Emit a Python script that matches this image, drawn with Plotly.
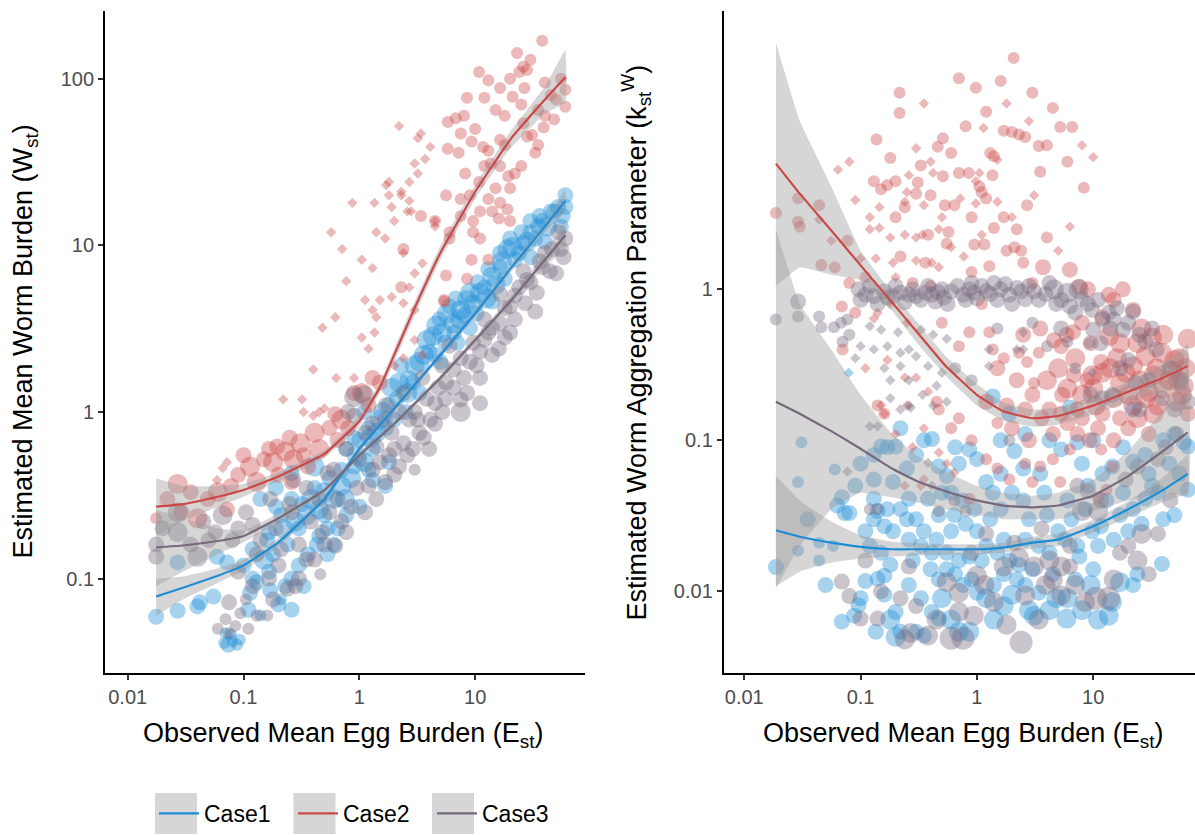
import plotly.graph_objects as go

W, H = 1195, 835

# ------------------------------------------------------------------ data
cases = ["Case1", "Case2", "Case3"]
colors = {"Case1": "#1C8CD6", "Case2": "#CC4848", "Case3": "#76697C"}

# Left panel: observed mean egg burden (x), estimated mean worm burden (y), size class (n)
W1_pts = [
    (0.0176,0.059,3),(0.027,0.064,3),(0.040,0.068,3),(0.042,0.072,3),(0.055,0.078,3),(0.027,0.125,3),(0.059,0.135,3),(0.072,0.125,3),
    (0.068,0.041,2),(0.074,0.040,3),(0.08,0.042,2),(0.088,0.040,2),(0.093,0.043,2),(0.07,0.047,2),(0.078,0.046,2),
    (0.114,0.082,3),(0.13,0.095,3),(0.166,0.11,3),(0.23,0.09,3),(0.26,0.1,3),(0.26,0.065,3),(0.2,0.07,3),(0.21,0.075,2),(0.33,0.09,3),
    (0.1,0.12,3),(0.12,0.15,3),(0.16,0.17,3),(0.166,0.19,3),(0.21,0.24,3),(0.26,0.3,3),(0.45,0.26,4),(0.53,0.2,3),(0.65,0.2,3),
    (0.77,0.24,3),(0.53,0.14,3),(0.6,0.16,3),(0.43,0.16,3),(0.36,0.14,3),(1.0,0.27,3),(1.67,0.36,3),(1.8,0.5,3),(1.3,0.39,3),
    (0.9,0.47,3),(0.77,0.6,3),(1.0,0.68,3),(0.41,0.47,4),(0.26,0.43,3),(0.19,0.35,3),(0.41,0.35,3),(0.14,0.3,3),(0.19,0.27,3),
    (0.3,0.2,3),(0.24,0.16,3),(0.9,0.7,3),(1.2,0.8,3),(1.5,0.9,4),(1.8,1.1,3),(2.1,1.2,3),(1.3,0.6,3),(2.5,1.0,3),(1.1,1.0,3),
    (0.7,0.45,3),(1.9,1.4,4),(2.7,1.55,4),(3.0,1.9,4),(2.3,1.9,3),(4.0,2.3,3),(3.8,2.7,4),(4.3,2.85,4),(5.2,3.0,4),(6.6,3.0,3),
    (4.9,3.6,3),(6.0,4.3,3),(7.4,3.6,4),(7.5,4.1,4),(8.5,4.7,4),(10.3,3.9,3),(11,5.2,4),(12,5.6,3),(14,4.6,3),(14,6.5,4),
    (16.4,7.4,3),(16.4,9,3),(19,9.5,4),(20,11,3),(22,8.2,3),(26,10.3,3),(30,12,3),(30,8.5,3),(30,14,3),(35,13,3),(38,14,3),
    (40,10.5,3),(48,16,3),(55,13,3),(60,20,3),(60,17,3),(3.3,1.3,3),(5.0,2.0,3),(7.0,2.6,3),(9.0,3.2,3),
    (0.12,0.1,3),(0.15,0.13,4),(0.18,0.14,3),(0.22,0.2,4),(0.28,0.22,4),(0.32,0.28,3),(0.35,0.24,4),(0.38,0.3,4),(0.5,0.33,4),
    (0.55,0.4,3),(0.6,0.3,4),(0.7,0.36,4),(0.85,0.4,4),(0.95,0.55,4),(1.1,0.5,4),(1.25,0.7,4),(1.4,0.75,4),(1.6,1.0,4),
    (1.7,0.8,3),(2.0,0.9,3),(2.2,1.5,4),(2.6,1.3,4),(2.9,1.5,3),(3.3,2.0,4),(3.6,2.2,4),(4.5,2.2,3),(4.6,3.3,4),(5.5,2.6,3),
    (5.7,3.9,4),(6.5,3.4,4),(6.8,4.8,3),(8.0,3.8,3),(9,5.2,4),(9.5,4.4,4),(10.5,6,3),(12.5,4.8,4),(13,7.2,3),(15,5.8,4),
    (17,8,4),(18,6.3,3),(21,9.8,4),(24,9,3),(25,12,3),(28,10.5,4),(33,11,3),(36,15,3),(42,13,4),(45,16,3),(52,17,3),(57,15,3),
    (0.45,0.18,3),(0.75,0.3,4),(1.2,0.45,3),(0.3,0.12,3),(0.17,0.085,3),(0.11,0.065,3),(0.14,0.06,2),(0.5,0.24,3),
]
W2_pts = [
    (0.0176,0.23,2),(0.027,0.37,4),(0.029,0.25,3),(0.040,0.23,4),(0.049,0.30,3),(0.059,0.39,1),(0.066,0.46,1),(0.072,0.50,1),
    (0.072,0.26,3),(0.078,0.36,3),(0.114,0.47,4),(0.15,0.52,3),(0.166,0.60,3),(0.195,0.62,3),(0.2,0.42,3),(0.23,0.58,4),
    (0.26,0.38,3),(0.31,0.65,4),(0.36,0.47,3),(0.41,0.75,4),(0.62,0.97,3),(0.65,0.68,3),(0.8,0.8,3),(1.05,1.3,4),(1.2,1.1,3),
    (0.9,1.3,3),(1.5,1.5,3),
    (0.022,0.3,3),(0.035,0.33,3),(0.06,0.33,4),(0.09,0.42,3),(0.13,0.38,4),(0.18,0.5,4),(0.27,0.52,4),(0.33,0.55,3),
    (0.45,0.6,4),(0.55,0.8,3),(0.7,0.9,4),(1.3,1.6,3),(0.1,0.55,3),(0.25,0.7,3),
    (0.22,1.19,1),(0.32,1.19,1),(0.33,1.0,1),(0.40,0.95,1),(0.45,1.0,1),(0.5,1.05,1),(0.40,1.8,1),(0.63,1.6,1),(0.9,1.6,1),
    (2.0,1.9,1),(3.5,2.2,1),(2.4,2.1,1),(1.2,2.4,1),(1.05,2.8,1),(1.35,3.0,1),(3.0,2.7,1),(0.48,3.2,1),(0.62,3.7,1),(1.3,4.1,1),
    (1.4,3.7,1),(3.0,4.1,1),(1.12,4.7,1),(1.5,4.7,1),(1.9,4.9,1),(2.7,5.6,1),(2.4,4.5,1),(5.4,4.6,2),(0.77,6.1,1),(3.0,6.8,1),
    (1.3,7.3,1),(3.5,7.8,1),(1.05,8.2,1),(0.71,9.5,1),(2.4,9.0,1),(1.4,12,1),(1.67,11,1),(0.57,12,1),(2.0,14,1),(2.6,16,1),
    (4.5,14,1),(4.5,13,1),(1.9,17,1),(2.8,16,1),(2.7,18.5,1),(1.8,20,1),(0.87,18,1),(1.35,18,1),(2.3,20,1),(2.3,21,1),(1.7,23,1),
    (1.8,24,1),(2.7,24,1),(3.2,27,1),(3.0,31,1),(3.7,33,1),(4.1,39,1),(3.2,44,1),(3.4,47,1),(2.2,52,1),
    (2.3,5.6,2),(2.4,9.5,2),(5.4,4.7,2),(5.6,6.6,2),(8.5,6.3,2),(9.3,8.2,2),(13,8.2,2),(6,11,2),(11,11,2),(6,12,2),(9.6,12,2),
    (3.4,15,2),(4.5,14,2),(7.5,15,2),(9.6,14,2),(14,16,2),(19,16.5,2),(20,14,2),(16,14.5,2),(11,16,2),(7.5,19,2),(5.6,20,2),
    (13,19,2),(16.4,18,2),(15,22,2),(10.8,24,2),(8.2,27,2),(13.6,31,2),(16.4,30,2),(19.3,26,2),(22,27,2),(5.8,38,2),(7.2,36,2),
    (13,37,2),(16.4,43,2),(11.7,39,2),(9.3,42,2),(7.5,47,2),(5.8,55,2),(6.8,58,2),(8,60,2),(8.5,77,2),(12,77,2),(33,36,2),
    (31,46,2),(39,51,2),(48,57,2),(26,54,2),(35,65,2),(60,68,2),(60,86,2),(21,78,2),(26.6,88,2),(16.4,88,2),(13,98,2),
    (10.8,110,2),(24,110,2),(26,118,2),(28,113,2),(23,143,2),(37.9,169,2),
    (18,60,2),(20,100,2),(30,130,2),(40,95,2),(45,80,2),(55,100,2),(15,65,2),(25,70,2),(10,50,2),(12,30,2),(18,40,2),
    (28,45,2),(35,40,2),(50,75,2),(9,20,2),(20,22,2),(25,30,2),(40,60,2),
]
W3_pts = [
    (0.0176,0.135,3),(0.027,0.19,4),(0.027,0.25,4),(0.04,0.135,4),(0.057,0.19,3),(0.066,0.24,4),(0.075,0.072,3),
    (0.06,0.05,2),(0.07,0.057,2),(0.075,0.047,2),(0.085,0.052,2),(0.094,0.062,2),(0.105,0.075,2),(0.166,0.1,3),(0.24,0.087,3),
    (0.28,0.09,3),(0.3,0.1,3),(0.46,0.106,2),(0.41,0.13,3),(0.62,0.157,3),(0.77,0.19,3),(1.12,0.25,3),(1.4,0.3,3),(1.67,0.38,3),
    (2.2,0.47,3),(2.9,0.6,3),(3.3,0.75,3),(4.1,0.9,3),(5.2,1.0,3),(7.5,1.0,4),(11,1.13,3),
    (0.26,0.25,3),(0.17,0.3,3),(0.105,0.25,3),(0.09,0.2,3),(0.14,0.17,3),(0.21,0.15,3),(0.3,0.16,3),(0.48,0.19,3),(0.65,0.3,3),
    (0.45,0.3,3),(0.27,0.39,3),(0.53,0.43,3),(0.77,0.6,3),(1.0,0.52,3),(1.4,0.62,3),(1.9,0.75,3),(2.7,0.9,3),(1.67,0.9,3),
    (1.12,0.75,3),(0.9,0.95,3),(0.8,1.0,3),(3.0,0.45,2),(4.0,0.6,3),
    (0.9,1.23,4),(1.1,1.26,4),(4.5,1.13,3),(7.5,1.19,3),(5.6,1.5,3),(8,1.6,3),(10.3,1.9,3),(7.5,2.1,3),(6,2.5,3),(9.6,2.6,3),
    (13,3.0,3),(16.4,3.4,3),(20,4.3,3),(33,4.0,3),(24,5.6,3),(16.4,5.1,3),(12,3.6,3),(30,6.0,3),(38,7.4,3),(50,6.8,3),
    (55,9.5,3),(60,11,3),(52,12,3),(40,9,3),(26,7,3),(20,3.0,3),(11,2.3,3),(3.5,1.6,3),(2.4,1.3,3),(1.7,1.1,3),(5.2,1.9,3),
    (16,2.4,3),(2.0,0.6,3),(3.0,1.0,3),
    (0.0176,0.16,3),(0.02,0.2,3),(0.035,0.16,3),(0.045,0.22,3),(0.05,0.17,3),(0.09,0.11,3),(0.12,0.09,3),(0.13,0.14,3),
    (0.2,0.12,3),(0.19,0.2,3),(0.35,0.13,3),(0.38,0.22,3),(0.5,0.16,3),(0.55,0.25,3),(0.7,0.22,3),(0.85,0.27,3),(0.95,0.35,3),
    (1.2,0.36,3),(1.3,0.45,3),(1.5,0.5,3),(1.8,0.55,3),(2.0,0.42,3),(2.4,0.65,3),(2.6,0.55,3),(3.2,0.9,3),(3.6,0.7,3),
    (3.8,1.2,3),(4.5,0.85,3),(4.8,1.4,3),(5.5,1.2,3),(6.5,1.4,3),(6.5,1.8,3),(8.5,1.3,3),(9,2.0,3),(11,1.6,3),(12,2.7,3),
    (14,2.2,3),(14,3.2,3),(18,2.8,3),(18,4.2,3),(22,3.6,3),(22,5,3),(27,4.5,3),(28,6.2,3),(34,5.2,3),(36,8,3),(44,7,3),
    (46,9.5,3),(58,8.5,3),(0.25,0.28,3),(0.12,0.21,3),(0.08,0.17,3),(0.35,0.35,3),(0.6,0.45,3),(1.3,0.85,3),(2.2,1.0,3),
    (0.16,0.06,2),(0.18,0.075,3),(0.13,0.06,2),(0.11,0.05,2),
]

# Right panel: observed mean egg burden (x), estimated aggregation parameter k (y), size class (n)
K1_pts = [
    (0.0187,0.0145,3),(0.029,0.0186,2),(0.029,0.053,2),(0.031,0.097,2),(0.044,0.021,2),(0.044,0.016,2),(0.06,0.064,2),
    (0.058,0.02,2),(0.069,0.042,3),(0.063,0.037,3),(0.08,0.033,3),(0.073,0.033,3),(0.09,0.05,3),
    (0.069,0.0063,3),(0.088,0.0069,3),(0.096,0.0081,3),(0.135,0.0054,3),(0.11,0.0117,3),(0.14,0.0121,3),(0.16,0.0127,3),
    (0.2,0.0073,3),(0.22,0.0054,3),
    (0.13,0.041,3),(0.13,0.03,3),(0.14,0.034,3),(0.16,0.027,3),(0.19,0.025,3),(0.22,0.035,3),(0.26,0.041,3),(0.3,0.03,3),
    (0.19,0.053,3),(0.15,0.091,3),(0.17,0.09,3),(0.2,0.091,3),(0.13,0.08,3),(0.22,0.12,3),(0.41,0.102,3),(0.47,0.067,3),
    (0.55,0.058,3),(0.86,0.087,3),(1.0,0.075,3),(1.2,0.053,3),(1.37,0.045,3),(0.38,0.041,3),(0.47,0.032,3),(0.64,0.032,3),
    (0.8,0.028,3),(1.0,0.025,3),(0.26,0.022,3),(0.33,0.02,3),(0.41,0.018,3),(0.55,0.018,3),(0.7,0.016,3),(0.86,0.017,3),
    (1.2,0.02,3),(1.5,0.018,3),(1.9,0.016,3),(2.6,0.022,3),(3.4,0.02,3),(4.2,0.018,3),(5.7,0.022,3),(7.3,0.02,3),(9.8,0.025,3),
    (11.7,0.027,3),(17,0.032,3),(22,0.035,3),(28,0.041,3),(36,0.045,3),(50,0.032,3),(65,0.047,3),(65,0.091,3),
    (39,0.0152,3),(24,0.013,3),(22,0.011,3),(17,0.0115,4),(13.6,0.0069,4),(14.5,0.0085,4),(5.9,0.0066,4),(4.2,0.0075,4),
    (3.1,0.0069,4),(6,0.009,4),(4.8,0.009,4),(1.7,0.008,4),(1.2,0.009,4),(0.86,0.0054,4),(0.7,0.0054,4),(0.41,0.0073,3),
    (0.47,0.0066,3),(0.3,0.0054,3),(0.35,0.0051,3),(0.2,0.005,4),(2.6,0.011,3),(3.4,0.0098,3),(0.76,0.011,3),(1.0,0.0098,3),
    (0.26,0.011,3),(0.33,0.009,3),(0.47,0.012,3),(0.55,0.014,3),(1.7,0.013,3),(2.3,0.015,3),(7.6,0.017,3),
    (14.6,0.067,3),(22,0.072,3),(5.3,0.087,3),(7.3,0.097,3),(6.3,0.165,3),(9.8,0.28,1),(22,0.16,3),(1.37,0.195,3),(0.079,0.28,1),
    (1.9,0.15,3),(50,0.11,3),(60,0.097,3),(2.6,0.11,3),(1.6,0.1,3),(2.1,0.085,3),(3.5,0.06,3),(0.6,0.045,3),(1.6,0.035,3),
    (2.5,0.04,3),(4,0.032,3),(6,0.04,3),(9,0.05,3),(12,0.06,3),(30,0.06,3),(45,0.07,3),
    (0.11,0.025,3),(0.12,0.02,3),(0.15,0.018,3),(0.18,0.015,3),(0.17,0.035,3),(0.25,0.03,3),(0.28,0.016,3),(0.35,0.025,3),
    (0.4,0.014,3),(0.45,0.022,3),(0.5,0.045,3),(0.6,0.025,3),(0.65,0.013,3),(0.75,0.04,3),(0.9,0.012,3),(0.95,0.035,3),
    (1.1,0.016,3),(1.3,0.03,3),(1.4,0.011,3),(1.7,0.022,3),(2.0,0.045,3),(2.2,0.012,3),(2.8,0.03,3),(3,0.014,3),(3.8,0.045,3),
    (4.5,0.013,3),(5,0.025,3),(6.5,0.03,3),(7,0.012,3),(8.5,0.035,3),(10,0.014,3),(11,0.02,3),(13,0.04,3),(15,0.022,3),
    (18,0.045,3),(20,0.025,3),(26,0.028,3),(32,0.05,3),(40,0.03,3),(0.1,0.009,3),(0.16,0.0095,3),(0.18,0.0065,4),(0.5,0.009,4),
    (0.6,0.0065,4),(1.4,0.0065,4),(2.0,0.0095,4),(2.8,0.0075,4),(8,0.0075,4),(9.5,0.011,4),(11,0.0065,4),(0.13,0.055,3),
    (0.1,0.07,3),(0.25,0.065,3),(0.3,0.08,3),(0.35,0.1,3),(0.65,0.09,3),(0.7,0.07,3),(1.6,0.06,3),(2.5,0.065,3),(4.2,0.1,3),
    (8,0.07,3),(10,0.1,3),(18,0.09,3),(28,0.08,3),(40,0.1,3),(55,0.06,3),(0.05,0.011,3),(0.035,0.03,3),
]
K2_pts = [
    (2.07,34,2),(0.98,21.6,2),(0.216,20,2),(0.216,14.7,2),(4.5,15.9,2),(5.2,11.9,2),(6.6,11.9,2),(1.14,11.7,1),(1.7,11.2,2),
    (2.0,11.0,2),(2.3,10.6,2),(2.6,10.2,2),(3.4,8.9,2),(10,7.5,1),(0.137,9.8,2),(0.51,10,2),(0.3,8.6,1),(0.46,8.8,2),(1.3,8.0,2),
    (1.4,7.6,2),(1.5,7.2,1),(0.18,7.4,2),(0.08,7.0,1),(0.064,6.2,1),(0.33,6.6,2),(0.42,5.9,1),(0.51,5.6,2),(0.7,5.9,2),
    (0.85,5.9,2),(1.05,5.9,1),(1.36,5.7,2),(3.5,6.0,2),(8.3,4.7,2),(0.13,5.2,2),(0.15,4.6,2),(0.17,4.9,2),(0.2,5.2,2),
    (0.26,5.7,1),(0.31,5.1,2),(0.25,4.4,1),(0.3,4.3,2),(0.4,4.2,2),(0.98,5.2,1),(1.05,4.8,2),(1.1,4.4,2),(0.09,3.9,1),
    (0.145,3.5,1),(0.24,3.8,1),(0.24,3.5,2),(0.35,3.6,1),(0.53,3.6,2),(0.64,3.6,2),(0.72,4.0,1),(0.98,3.7,1),(1.2,4.0,2),
    (1.5,3.8,1),(2.7,3.6,2),(3.1,4.2,1),
    (0.4,7,1),(0.6,8,2),(0.8,12,2),(1.2,15,2),(1.8,17,1),(3,20,2),(0.35,17,1),(0.7,25,2),(1.6,24,2),(2.8,13,1),(4,9,2),(6,7,2),
    (8,9,1),(0.12,3,1),(0.2,3,2),(0.5,3,1),(0.9,3,2),(2,3,1),(2.2,2.5,2),(4,2.2,2),(5,1.8,1),(0.08,1.1,2),(0.11,1.2,2),
    (0.2,1.2,1),(0.28,1.1,2),(0.4,1.05,2),(0.9,1.3,2),(2.5,1.5,2),(3,1.1,2),(1.1,0.8,2),(0.5,0.6,2),(0.25,0.6,1),(0.18,0.8,1),
    (0.0187,3.2,2),(0.029,4.0,2),(0.044,3.6,2),(0.029,2.8,2),(0.03,2.6,2),(0.044,2.9,1),(0.056,2.1,1),(0.077,2.1,2),
    (0.046,1.45,2),(0.06,1.4,2),(0.1,1.6,1),(0.135,1.6,1),(0.12,2.5,1),(0.145,2.55,1),(0.18,2.2,1),(0.24,2.3,1),(0.3,2.2,1),
    (0.34,2.3,1),(0.38,2.3,2),(0.47,2.5,1),(0.57,2.4,2),(0.19,1.5,1),(0.22,1.65,2),(0.3,1.55,1),(0.36,1.5,2),(0.41,1.5,1),
    (0.47,1.4,1),(0.55,2.0,2),(0.6,1.9,1),(0.77,1.65,1),(0.95,1.98,2),(1.16,1.98,2),(1.1,2.3,1),(1.28,1.42,2),(1.8,1.8,2),
    (2.1,1.9,2),(2.4,1.8,2),(1.4,2.55,2),(1.7,3.0,2),(6.3,2.6,1),(3.7,1.4,3),(6.3,1.35,3),(7.6,1.04,3),(9,1.0,3),(13.6,0.92,3),
    (0.069,0.77,2),(0.09,0.7,2),(0.13,0.64,1),(0.14,0.7,1),(0.07,0.4,2),(0.11,0.3,1),(0.17,0.34,1),(0.24,0.26,1),(0.3,0.26,1),
    (0.38,0.21,1),(0.45,0.18,2),(0.47,0.16,2),(0.14,0.17,2),(0.16,0.15,2),(0.7,0.42,2),(0.86,0.52,2),(1.28,0.52,2),(1.37,0.4,2),
    (1.7,0.35,2),(2.3,0.38,2),(2.7,0.33,2),(3.4,0.38,2),(4.6,0.46,3),(5.3,0.42,3),(5.9,0.5,3),(1.5,0.3,3),(3.1,0.24,2),
    (22,0.73,3),(6.7,0.52,3),(9.5,0.44,3),(13.7,0.49,4),(17,0.44,4),(24,0.44,4),(28,0.36,4),(39,0.38,4),(50,0.34,4),(65,0.47,4),
    (62,0.3,4),(45,0.25,4),(33,0.27,4),(22,0.31,4),(17,0.24,4),(9.8,0.27,4),(11.7,0.33,3),(6.8,0.27,3),(8.9,0.25,3),(5.4,0.2,3),
    (4.2,0.16,3),(7.3,0.16,3),(10.5,0.17,4),(15,0.19,4),(22,0.17,4),(28,0.19,4),(33,0.15,4),(54,0.25,4),(58,0.2,4),
    (3,0.2,3),(4,0.25,4),(5,0.3,4),(6,0.22,4),(7,0.35,4),(8,0.2,4),(10,0.22,4),(12,0.28,4),(14,0.3,4),(16,0.35,4),(19,0.28,4),
    (20,0.2,4),(25,0.25,4),(30,0.21,4),(35,0.3,4),(40,0.22,4),(48,0.29,4),(55,0.35,4),(60,0.23,4),(4.5,0.11,3),(6,0.13,3),
    (11,0.12,3),(15,0.1,3),(20,0.12,3),(30,0.11,3),(2,0.12,3),(2.8,0.1,3),(1.5,0.13,2),(0.9,0.1,2),(0.7,0.14,2),(0.6,0.12,2),
    (0.35,0.12,1),(0.28,0.09,1),(0.2,0.11,1),(2.2,0.25,3),(2.5,0.5,3),(3.5,0.55,3),(8,0.6,3),(12,0.65,3),(15,0.85,3),
    (18,1.0,3),(26,0.55,4),(32,0.48,4),(40,0.5,4),
    (1.2,0.18,3),(1.8,0.17,3),(2.6,0.16,3),(3.6,0.14,3),(5.3,0.15,3),(8,0.14,3),(12,0.15,3),(17,0.14,3),(24,0.14,4),(36,0.17,4),
    (7.3,0.11,3),(9.3,0.1,3),(6.3,0.087,2),(4.5,0.075,2),(3.5,0.067,2),(2.6,0.07,2),(11.7,0.087,2),(14.6,0.067,2),(1.9,0.055,2),
    (3,0.053,2),(5.2,0.053,2),(1.2,0.075,2),(1.5,0.065,2),(0.86,0.041,2),(0.47,0.083,1),(0.55,0.07,1),(0.64,0.061,1),
    (0.35,0.055,1),(0.33,0.05,1),(0.24,0.05,1),(0.16,0.15,1),(0.15,0.17,1),(0.25,0.17,1),(13,0.047,2),(11,0.042,2),(52,0.18,4),
    (65,0.15,3),
]
K3_pts = [
    (0.0187,0.63,2),(0.029,0.83,3),(0.029,0.66,2),(0.044,0.66,2),(0.046,0.56,2),(0.059,0.56,2),(0.068,0.6,2),(0.077,0.63,2),
    (0.096,1.0,3),(0.11,0.92,3),(0.13,0.9,3),(0.16,0.97,3),(0.19,0.9,3),(0.22,0.95,3),(0.26,0.92,3),(0.3,0.9,3),(0.36,0.95,3),
    (0.41,0.92,3),(0.46,0.96,3),(0.52,0.88,3),(0.6,0.97,3),(0.76,0.92,3),(0.86,1.0,3),(0.95,0.95,3),(1.1,1.05,3),(1.3,0.93,3),
    (1.6,1.0,3),(1.9,0.92,3),(2.2,1.02,3),(2.6,0.86,3),(3.1,0.97,3),(3.9,0.93,3),(4.6,1.0,4),(5.3,0.85,3),(6.3,0.77,3),
    (8,0.86,3),(9.8,0.73,3),(12,0.63,3),(13.6,0.7,3),(15,0.63,3),(18,0.54,3),(22,0.71,3),(10,0.54,3),(11.6,0.44,3),
    (5.3,0.55,3),(2.5,0.52,1),(2.5,0.4,1),(1.27,0.4,1),(1.27,0.31,1),(2.2,0.4,1),(9.3,0.44,2),(9.5,0.2,3),(12,0.19,3),
    (14.6,0.2,3),(20,0.34,3),(23,0.24,3),(25,0.16,3),(39,0.19,3),(50,0.16,3),(65,0.18,3),
    (0.1,0.85,3),(0.12,1.05,3),(0.14,0.8,3),(0.17,0.88,3),(0.2,1.05,3),(0.24,0.82,3),(0.28,1.0,3),(0.33,0.85,3),(0.38,1.05,3),
    (0.44,0.83,3),(0.5,1.0,3),(0.56,0.8,3),(0.68,1.05,3),(0.8,0.85,3),(0.9,1.1,3),(1.0,0.87,3),(1.2,0.97,3),(1.4,1.1,3),
    (1.5,0.85,3),(1.75,1.08,3),(2.0,0.8,3),(2.4,0.97,3),(2.8,1.05,3),(3.4,0.85,3),(4.2,1.1,3),(4.8,0.8,3),(6,0.95,4),(7,0.7,3),
    (7.5,1.0,4),(9,0.8,3),(11,0.85,3),(14,0.55,3),(16,0.75,3),(20,0.6,3),(25,0.5,3),(28,0.45,3),(32,0.55,3),(35,0.4,3),
    (0.07,0.45,2),(0.08,0.5,2),(0.09,0.35,1),(0.16,0.3,1),(0.3,0.36,1),(0.34,0.2,1),(0.5,0.28,1),(0.65,0.3,2),(0.9,0.25,2),
    (1.5,0.55,2),(3,0.6,2),(4,0.42,2),(6,0.45,2),(7,0.3,2),(17,0.3,3),(30,0.25,3),(45,0.3,3),(55,0.25,3),
    (0.1,0.42,1),(0.13,0.4,1),(0.17,0.42,1),(0.22,0.38,1),(0.26,0.4,1),(0.18,0.25,1),(0.22,0.31,1),(0.26,0.25,1),(0.38,0.31,1),
    (0.45,0.23,1),(0.55,0.18,1),(0.33,0.54,1),(0.42,0.5,1),(0.55,0.47,1),(0.12,0.57,1),(0.15,0.54,1),(0.21,0.52,1),(0.18,0.19,1),
    (0.22,0.16,1),(0.26,0.17,1),(0.42,0.17,1),(0.12,0.124,1),(0.14,0.124,1),(0.27,0.165,1),(0.077,0.062,1),(0.38,0.071,1),
    (0.41,0.05,1),(0.64,0.04,2),(0.8,0.034,2),(1.9,0.1,2),(7.3,0.05,3),(9,0.046,3),(11.7,0.04,3),(19,0.055,3),(24,0.067,3),
    (36,0.075,3),(42,0.09,3),(52,0.11,3),(46,0.04,3),(36,0.024,3),
    (0.069,0.0116,3),(0.08,0.0093,3),(0.1,0.0066,3),(0.14,0.0066,3),(0.22,0.009,3),(0.26,0.0146,3),(0.24,0.0048,4),
    (0.27,0.0053,4),(0.38,0.0051,4),(0.6,0.0049,5),(0.76,0.0049,5),(0.94,0.0069,4),(2.4,0.0046,5),(0.55,0.0115,4),(0.7,0.0098,4),
    (1.0,0.0127,4),(1.16,0.011,4),(1.7,0.0146,4),(2.3,0.0167,4),(3.1,0.0146,4),(4.2,0.016,4),(5.3,0.0146,4),(6.3,0.02,3),
    (6.3,0.0146,3),(10.5,0.009,5),(13.6,0.009,5),(24,0.016,4),(26,0.024,4),(8,0.034,4),(11,0.034,4),(17,0.018,3),(5.3,0.0094,4),
    (2.6,0.0094,4),(0.7,0.0073,4),(3.9,0.011,4),(1.2,0.024,3),(2.1,0.021,3),(3.6,0.026,3),(0.12,0.035,2),(0.14,0.035,2),
    (0.47,0.034,2),
    (0.3,0.008,3),(0.45,0.0065,4),(1.4,0.0085,4),(1.8,0.006,4),(3.4,0.0065,4),(4.5,0.012,4),(7,0.011,4),(8.5,0.0085,4),
    (15,0.012,4),(20,0.02,3),(30,0.013,3),(0.9,0.018,3),(0.15,0.01,3),(0.11,0.016,3),
]

# Smoothed trends (loess) with confidence bands
fitx_L = [0.0176, 0.03, 0.06, 0.1, 0.2, 0.5, 1, 2, 5, 10, 20, 40, 60]
W1_fit = [0.078, 0.088, 0.104, 0.12, 0.165, 0.3, 0.6, 1.05, 2.2, 3.9, 7.2, 13, 18.5]
W1_lo = [0.06, 0.075, 0.094, 0.112, 0.155, 0.285, 0.57, 1.0, 2.1, 3.7, 6.8, 12, 16]
W1_hi = [0.10, 0.103, 0.115, 0.13, 0.175, 0.315, 0.63, 1.1, 2.3, 4.1, 7.6, 14, 21.5]
W3_fit = [0.154, 0.158, 0.168, 0.18, 0.23, 0.34, 0.55, 0.85, 1.6, 2.7, 4.6, 8.2, 11.5]
W3_lo = [0.09, 0.11, 0.14, 0.165, 0.215, 0.325, 0.53, 0.82, 1.53, 2.58, 4.35, 7.5, 9.5]
W3_hi = [0.26, 0.23, 0.2, 0.195, 0.245, 0.355, 0.57, 0.88, 1.67, 2.82, 4.85, 9.0, 14]
fitx_L2 = [0.0176, 0.03, 0.06, 0.1, 0.2, 0.5, 1, 1.5, 2, 3, 5, 10, 20, 40, 60]
W2_fit = [0.27, 0.28, 0.31, 0.34, 0.41, 0.56, 0.88, 1.4, 2.2, 4.2, 9, 21, 43, 75, 102]
W2_lo = [0.18, 0.22, 0.27, 0.31, 0.385, 0.53, 0.82, 1.3, 2.0, 3.8, 8.2, 19, 38, 62, 72]
W2_hi = [0.40, 0.36, 0.36, 0.37, 0.435, 0.59, 0.94, 1.5, 2.4, 4.6, 9.9, 23, 48, 90, 148]

fitx_R = [0.0187, 0.03, 0.056, 0.1, 0.186, 0.3, 0.54, 1, 1.7, 3, 5, 10, 20, 40, 65]
K1_fit = [0.0254, 0.023, 0.021, 0.0197, 0.019, 0.019, 0.019, 0.019, 0.0195, 0.021, 0.022, 0.027, 0.035, 0.047, 0.06]
K1_lo = [0.0108, 0.0135, 0.0155, 0.0165, 0.017, 0.0173, 0.0175, 0.0176, 0.018, 0.0192, 0.02, 0.0245, 0.031, 0.039, 0.045]
K1_hi = [0.058, 0.04, 0.029, 0.0235, 0.0213, 0.0209, 0.0206, 0.0205, 0.021, 0.023, 0.0242, 0.0298, 0.0395, 0.057, 0.08]
K2_fit = [6.8, 4.3, 2.45, 1.44, 0.82, 0.53, 0.31, 0.2, 0.155, 0.14, 0.145, 0.17, 0.21, 0.26, 0.31]
K2_lo = [1.05, 1.4, 1.25, 1.15, 0.72, 0.45, 0.267, 0.17, 0.135, 0.123, 0.127, 0.148, 0.18, 0.21, 0.22]
K2_hi = [43, 13, 4.8, 1.8, 0.95, 0.62, 0.36, 0.235, 0.178, 0.16, 0.165, 0.195, 0.245, 0.32, 0.43]
K3_fit = [0.18, 0.15, 0.115, 0.088, 0.065, 0.054, 0.046, 0.04, 0.037, 0.036, 0.037, 0.043, 0.058, 0.085, 0.113]
K3_lo = [0.0105, 0.02, 0.035, 0.045, 0.042, 0.039, 0.035, 0.032, 0.03, 0.03, 0.03, 0.034, 0.04, 0.045, 0.043]
K3_hi = [2.5, 0.8, 0.4, 0.2, 0.11, 0.08, 0.062, 0.05, 0.045, 0.043, 0.045, 0.055, 0.085, 0.16, 0.3]

x_ticks = [0.01, 0.1, 1, 10]
x_ticktext = ["0.01", "0.1", "1", "10"]
yL_ticks = [0.1, 1, 10, 100]
yL_ticktext = ["0.1", "1", "10", "100"]
yR_ticks = [0.01, 0.1, 1]
yR_ticktext = ["0.01", "0.1", "1"]

# ------------------------------------------------------------------ styling helpers
FONT = "Liberation Sans, Arial, sans-serif"
SIZE_PX = {1: 8, 2: 12, 3: 16, 4: 20, 5: 23}
RIBBON = "rgba(153,153,153,0.4)"
SMOOTH = 0.3


def rgba(hexc, a):
    h = hexc.lstrip("#")
    return "rgba(%d,%d,%d,%s)" % (int(h[0:2], 16), int(h[2:4], 16), int(h[4:6], 16), a)


def px(x):
    return x / W


def py(y):
    return 1 - y / H


fig = go.Figure()

panels = [
    ("x", "y", {"Case1": W1_pts, "Case2": W2_pts, "Case3": W3_pts},
     {"Case1": (fitx_L, W1_fit, W1_lo, W1_hi), "Case2": (fitx_L2, W2_fit, W2_lo, W2_hi),
      "Case3": (fitx_L, W3_fit, W3_lo, W3_hi)}, True),
    ("x2", "y2", {"Case1": K1_pts, "Case2": K2_pts, "Case3": K3_pts},
     {"Case1": (fitx_R, K1_fit, K1_lo, K1_hi), "Case2": (fitx_R, K2_fit, K2_lo, K2_hi),
      "Case3": (fitx_R, K3_fit, K3_lo, K3_hi)}, False),
]

for xa, ya, pts, fits, leg in panels:
    for c in cases:
        p = pts[c]
        xs = [t[0] for t in p]
        ys = [t[1] for t in p]
        ns = [t[2] for t in p]
        fig.add_trace(go.Scatter(
            x=xs, y=ys, mode="markers", xaxis=xa, yaxis=ya, showlegend=False, hoverinfo="skip",
            marker=dict(size=[SIZE_PX[n] for n in ns],
                        symbol=["diamond" if n == 1 else "circle" for n in ns],
                        color=rgba(colors[c], 0.55), line=dict(width=0))))
    for c in cases:
        fx, fy, lo, hi = fits[c]
        fig.add_trace(go.Scatter(
            x=fx + fx[::-1], y=hi + lo[::-1], mode="lines", fill="toself", fillcolor=RIBBON,
            line=dict(width=0, shape="spline", smoothing=SMOOTH), xaxis=xa, yaxis=ya,
            showlegend=False, hoverinfo="skip"))
    for c in cases:
        fx, fy, lo, hi = fits[c]
        fig.add_trace(go.Scatter(
            x=fx, y=fy, mode="lines", name=c, legendgroup=c, showlegend=leg,
            line=dict(color=colors[c], width=2.2, shape="spline", smoothing=SMOOTH),
            xaxis=xa, yaxis=ya))

axis_common = dict(
    type="log", showgrid=False, zeroline=False, showline=True, linecolor="#000000", linewidth=1.8,
    ticks="outside", ticklen=5, tickwidth=1.5, tickcolor="#333333", tickmode="array",
    tickfont=dict(family=FONT, size=20, color="#4D4D4D"), automargin=False, fixedrange=True,
)
ydom = [py(674), py(11)]

fig.update_layout(
    width=W, height=H, autosize=False,
    margin=dict(l=0, r=0, t=0, b=0),
    paper_bgcolor="white", plot_bgcolor="white",
    font=dict(family=FONT, color="#000000"),
    xaxis=dict(axis_common, domain=[px(105), px(585)], range=[-2.196, 1.948], anchor="y",
               tickvals=x_ticks, ticktext=x_ticktext),
    yaxis=dict(axis_common, domain=ydom, range=[-1.568, 2.407], anchor="x",
               tickvals=yL_ticks, ticktext=yL_ticktext),
    xaxis2=dict(axis_common, domain=[px(723.7), 1.0], range=[-2.177, 1.875], anchor="y2",
                tickvals=x_ticks, ticktext=x_ticktext),
    yaxis2=dict(axis_common, domain=ydom, range=[-2.542, 1.843], anchor="x2",
                tickvals=yR_ticks, ticktext=yR_ticktext),
    showlegend=True,
    legend=dict(orientation="h", x=px(154), xanchor="left", y=py(814), yanchor="middle",
                font=dict(family=FONT, size=23, color="#000000"), bgcolor="rgba(0,0,0,0)",
                itemwidth=40, entrywidth=84, entrywidthmode="pixels", traceorder="normal"),
)

title_font = dict(family=FONT, size=27, color="#000000")
fig.add_annotation(text="Observed Mean Egg Burden (E<sub>st</sub>)", x=px(343), y=py(736), xref="paper",
                   yref="paper", showarrow=False, font=title_font, xanchor="center", yanchor="middle")
fig.add_annotation(text="Observed Mean Egg Burden (E<sub>st</sub>)", x=px(963), y=py(736), xref="paper",
                   yref="paper", showarrow=False, font=title_font, xanchor="center", yanchor="middle")
fig.add_annotation(text="Estimated Mean Worm Burden (W<sub>st</sub>)", x=px(25), y=py(342), xref="paper",
                   yref="paper", showarrow=False, font=title_font, textangle=-90, xanchor="center",
                   yanchor="middle")
fig.add_annotation(text="Estimated Worm Aggregation Parameter (k<sub>st</sub><sup>W</sup>)", x=px(636),
                   y=py(343), xref="paper", yref="paper", showarrow=False, font=title_font, textangle=-90,
                   xanchor="center", yanchor="middle")

# legend key backgrounds (ggplot style grey key boxes)
for x0 in (155, 293.5, 432):
    fig.add_shape(type="rect", xref="paper", yref="paper", x0=px(x0), x1=px(x0 + 42), y0=py(835), y1=py(794),
                  fillcolor="#D6D6D6", line=dict(width=0), layer="below")

fig.write_html("out.html")
